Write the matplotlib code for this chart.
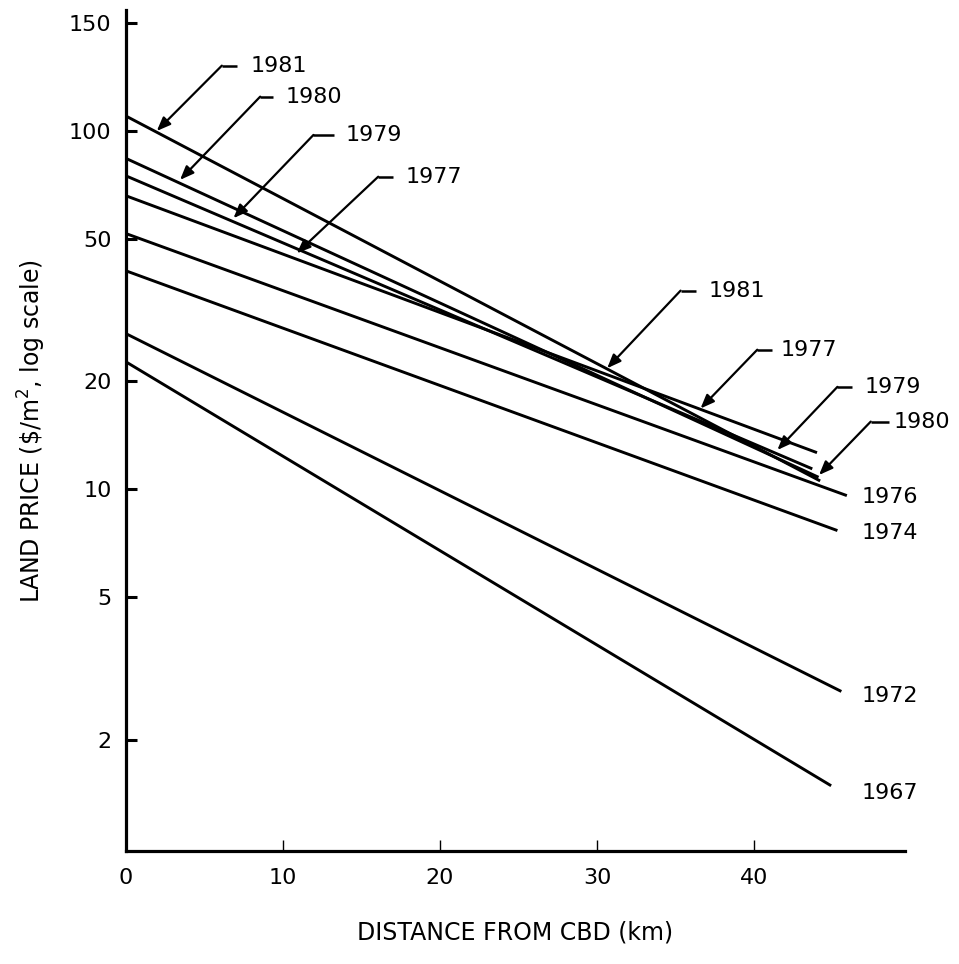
import matplotlib
matplotlib.use('Agg')
import matplotlib.pyplot as plt
from matplotlib.ticker import NullLocator, FixedLocator, FixedFormatter

plt.rcParams['font.family'] = ['DejaVu Sans']
plt.rcParams['mathtext.default'] = 'regular'

# ---- data ----
years = ['1981', '1980', '1979', '1977', '1976', '1974', '1972', '1967']
price_at_cbd = [110.0, 83.8, 74.9, 65.9, 51.7, 40.7, 27.2, 22.7]   # $/m2 at 0 km
end_distance = [44.2, 44.1, 43.7, 44.0, 45.9, 45.3, 45.55, 44.9]   # km
price_at_end = [10.55, 10.8, 11.4, 12.65, 9.6, 7.67, 2.73, 1.49]   # $/m2 at line end

x_ticks = [0, 10, 20, 30, 40]
y_ticks = [2, 5, 10, 20, 50, 100, 200]
y_tick_labels = ['2', '5', '10', '20', '50', '100', '150']

# arrow labels: (text, corner_x, corner_y, segment_end_x, text_x, tip_x, tip_y)
arrow_labels = [
    ('1981', 6.13, 151.8, 7.08, 7.93, 1.99, 99.8),
    ('1980', 8.57, 124.4, 9.41, 10.16, 3.47, 72.9),
    ('1979', 11.96, 97.3, 13.24, 13.98, 6.87, 57.0),
    ('1977', 16.08, 74.4, 17.04, 17.8, 10.9, 45.5),
    ('1981', 35.32, 35.8, 36.27, 37.1, 30.65, 21.75),
    ('1977', 40.2, 24.5, 41.16, 41.69, 36.59, 16.8),
    ('1979', 45.3, 19.3, 46.25, 47.0, 41.48, 12.87),
    ('1980', 47.42, 15.44, 48.59, 48.89, 44.13, 10.96),
]
# plain end labels: (text, x, y)
end_labels = [
    ('1976', 46.85, 9.54),
    ('1974', 46.85, 7.54),
    ('1972', 46.85, 2.65),
    ('1967', 46.85, 1.42),
]

fig = plt.figure(figsize=(9.59, 9.64), dpi=100)
ax = fig.add_axes([125.5 / 959, 1 - 851 / 964, (905 - 125.5) / 959, (851 - 10) / 964])
ax.set_yscale('log')
ax.set_xlim(0, 49.6)
ax.set_ylim(0.98, 217)

for yr, p0, d1, p1 in zip(years, price_at_cbd, end_distance, price_at_end):
    ax.plot([0, d1], [p0, p1], color='black', lw=2.1, solid_capstyle='butt')

for txt, cx, cy, sx, tx, px, py in arrow_labels:
    ax.plot([cx, sx], [cy, cy], color='black', lw=1.8, solid_capstyle='butt')
    ax.annotate('', xy=(px, py), xytext=(cx, cy),
                arrowprops=dict(arrowstyle='-|>,head_length=0.55,head_width=0.22',
                                color='black', lw=1.6, shrinkA=0, shrinkB=0,
                                mutation_scale=15))
    ax.text(tx, cy, txt, ha='left', va='center', fontsize=16)

for txt, tx, ty in end_labels:
    ax.text(tx, ty, txt, ha='left', va='center', fontsize=16)

for s in ['top', 'right']:
    ax.spines[s].set_visible(False)
for s in ['left', 'bottom']:
    ax.spines[s].set_linewidth(2.3)

ax.yaxis.set_major_locator(FixedLocator(y_ticks))
ax.yaxis.set_major_formatter(FixedFormatter(y_tick_labels))
ax.yaxis.set_minor_locator(NullLocator())
ax.set_xticks(x_ticks)
ax.set_xticklabels([str(v) for v in x_ticks])

ax.tick_params(axis='y', direction='in', length=8, width=2.2, pad=10, labelsize=16)
ax.tick_params(axis='x', direction='in', length=8, width=1.0, pad=12, labelsize=16)

ax.set_ylabel(r'LAND PRICE (\$/m$^{2}$, log scale)', fontsize=17)
ax.yaxis.set_label_coords(-0.1, 0.5)
ax.set_xlabel('DISTANCE FROM CBD (km)', fontsize=17)
ax.xaxis.label.set_va('center')
ax.xaxis.set_label_coords(0.5, -0.0975)

fig.savefig('out.png', dpi=100)
